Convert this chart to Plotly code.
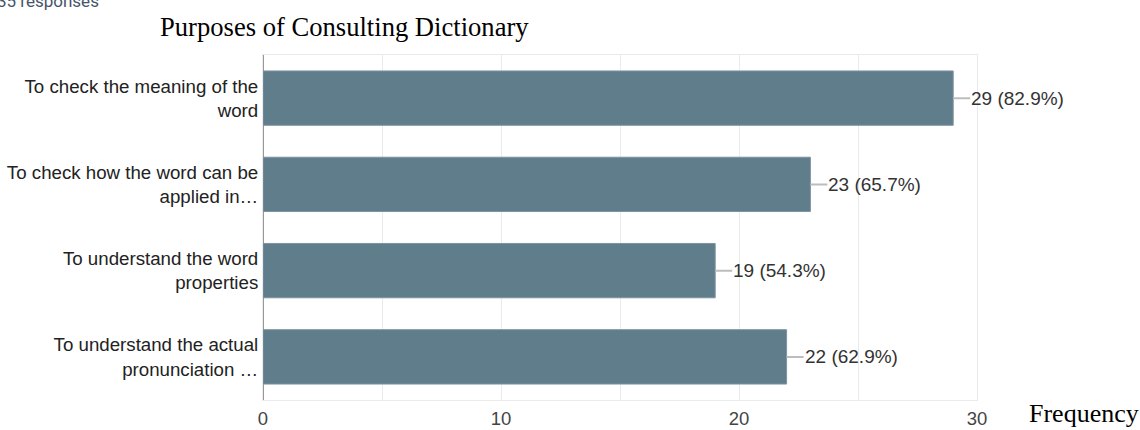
import plotly.graph_objects as go

categories = [
    "To check the meaning of the<br>word",
    "To check how the word can be<br>applied in…",
    "To understand the word<br>properties",
    "To understand the actual<br>pronunciation …",
]
counts = [29, 23, 19, 22]
percents = [82.9, 65.7, 54.3, 62.9]
x_ticks = [0, 10, 20, 30]

W, H = 1140, 430
L, R, T, B = 263, 163, 55, 30
pw, ph = W - L - R, H - T - B

def px_x(p):
    return (p - L) / pw

def px_y(p):
    return (H - B - p) / ph

fig = go.Figure()
fig.add_trace(go.Bar(
    x=counts, y=categories, orientation="h",
    width=0.63,
    marker=dict(color="#607d8b", line=dict(width=1, color="#7d949f")),
    hoverinfo="skip",
))

annotations = []
for c, p, cat in zip(counts, percents, categories):
    annotations.append(dict(
        x=c, y=cat, xref="x", yref="y",
        text=f"{c} ({p}%)",
        showarrow=True, arrowhead=0, arrowwidth=2, arrowcolor="#bdbdbd",
        ax=17, ay=0, xanchor="left", yanchor="middle", borderpad=0,
        font=dict(family="Arial, Liberation Sans", size=19, color="#333333"),
    ))

annotations.append(dict(
    x=px_x(158), y=px_y(27), xref="paper", yref="paper",
    text="Purposes of Consulting Dictionary", showarrow=False,
    xanchor="left", yanchor="middle",
    font=dict(family="Times New Roman, Liberation Serif", size=26.6, color="#000000"),
))
annotations.append(dict(
    x=px_x(1027), y=px_y(414), xref="paper", yref="paper",
    text="Frequency", showarrow=False,
    xanchor="left", yanchor="middle",
    font=dict(family="Times New Roman, Liberation Serif", size=26, color="#000000"),
))
annotations.append(dict(
    x=px_x(101), y=px_y(13), xref="paper", yref="paper",
    text="35 responses", showarrow=False,
    xanchor="right", yanchor="bottom",
    font=dict(family="Roboto, Arial", size=17, color="#44546a"),
))

fig.update_layout(
    width=W, height=H, autosize=False,
    margin=dict(l=L, r=R, t=T, b=B, pad=0, autoexpand=False),
    paper_bgcolor="white", plot_bgcolor="white",
    showlegend=False,
    bargap=0.37,
    annotations=annotations,
)
fig.update_xaxes(
    range=[0, 30], tickvals=x_ticks, ticktext=[str(v) for v in x_ticks],
    automargin=False,
    showgrid=True, gridcolor="#ebebeb", gridwidth=1,
    minor=dict(dtick=5, showgrid=True, gridcolor="#ebebeb", gridwidth=1),
    zeroline=True, zerolinecolor="#999999", zerolinewidth=2,
    showline=True, mirror=True, linecolor="#ebebeb", linewidth=1,
    ticks="outside", ticklen=2, tickcolor="rgba(0,0,0,0)",
    tickfont=dict(family="Arial, Liberation Sans", size=18.5, color="#444444"),
    fixedrange=True,
)
fig.update_yaxes(
    autorange="reversed", automargin=False,
    showgrid=False, showline=True, mirror=True, linecolor="#ebebeb", linewidth=1,
    ticks="",
    tickfont=dict(family="Arial, Liberation Sans", size=18.7, color="#222222"),
    fixedrange=True,
)

fig.write_html("out.html")
